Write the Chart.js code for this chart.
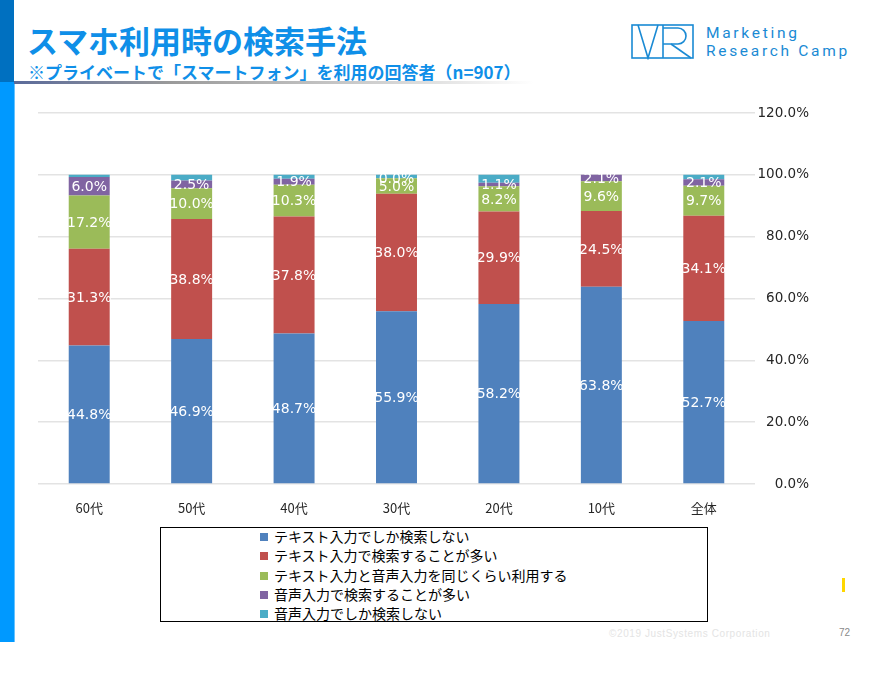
<!DOCTYPE html>
<html lang="ja">
<head>
<meta charset="utf-8">
<script src="https://cdn.jsdelivr.net/npm/chart.js@4.4.1/dist/chart.umd.min.js"></script>
<style>
  html, body { margin: 0; padding: 0; background: #fff; }
  body { width: 879px; height: 696px; position: relative; overflow: hidden; font-family: "Noto Sans CJK JP", "Noto Sans", sans-serif; }
  #barTop { position: absolute; left: 0; top: 0; width: 14px; height: 82px; background: #0070c0; }
  #barBottom { position: absolute; left: 0; top: 82px; width: 14px; height: 560px; background: #0099ff; border-right: 1px solid #66c2ff; }
  #title { position: absolute; left: 27px; top: 20px; font-size: 31px; font-weight: bold; color: #0f8fe8; white-space: nowrap; line-height: 40px; }
  #subtitle { position: absolute; left: 28px; top: 61px; font-size: 17px; font-weight: bold; color: #0f8fe8; white-space: nowrap; line-height: 22px; }
  #rule { position: absolute; left: 14px; top: 81px; width: 520px; height: 3px; background: linear-gradient(to right, #5a6a9a 0%, #9a9a9a 30%, #d0d0d0 70%, rgba(255,255,255,0) 100%); }
  #logo { position: absolute; left: 631px; top: 24px; }
  #logoText { position: absolute; left: 706px; top: 24px; font-family: Roboto, "Noto Sans", sans-serif; font-size: 15.5px; color: #1a8ad4; letter-spacing: 2.7px; line-height: 18px; }
  #chartWrap { position: absolute; left: 0; top: 96px; width: 879px; height: 430px; }
  #legend { position: absolute; left: 160px; top: 527px; width: 546px; height: 93px; border: 1px solid #000; box-sizing: content-box; }
  .li { position: absolute; left: 99px; font-size: 14px; color: #000; white-space: nowrap; line-height: 16px; }
  .sw { display: inline-block; width: 8px; height: 8px; margin-right: 6px; vertical-align: 1px; }
  #copy { position: absolute; left: 609px; top: 628px; font-family: "Liberation Sans", sans-serif; font-size: 10px; color: #e4e4e4; letter-spacing: 0.6px; }
  #page { position: absolute; left: 839px; top: 627px; font-family: "Liberation Sans", sans-serif; font-size: 10px; color: #8a8a8a; }
  #yellow { position: absolute; left: 842px; top: 578px; width: 3px; height: 14px; background: #ffd700; }
</style>
</head>
<body>
<div id="barTop"></div>
<div id="barBottom"></div>
<div id="title">スマホ利用時の検索手法</div>
<div id="subtitle">※プライベートで「スマートフォン」を利用の回答者（n=907）</div>
<div id="rule"></div>
<svg id="logo" width="64" height="36" viewBox="0 0 64 36">
  <g fill="none" stroke="#1a8ad4" stroke-width="1.6">
    <rect x="1" y="1" width="61" height="33"/>
    <polyline points="7,1 17,34 27,1"/>
    <line x1="32" y1="1" x2="32" y2="34"/>
    <path d="M32,4 H47 A8,8 0 0 1 47,20 H32"/>
    <line x1="40" y1="20" x2="60" y2="34"/>
  </g>
</svg>
<div id="logoText">Marketing<br>Research Camp</div>
<div id="chartWrap"><canvas id="c" width="879" height="430"></canvas></div>
<div id="legend"></div>
<div id="copy">©2019 JustSystems Corporation</div>
<div id="page">72</div>
<div id="yellow"></div>
<script>
const categories = ["60代", "50代", "40代", "30代", "20代", "10代", "全体"];
const seriesNames = [
  "テキスト入力でしか検索しない",
  "テキスト入力で検索することが多い",
  "テキスト入力と音声入力を同じくらい利用する",
  "音声入力で検索することが多い",
  "音声入力でしか検索しない"
];
const textOnly   = [44.8, 46.9, 48.7, 55.9, 58.2, 63.8, 52.7];
const textMostly = [31.3, 38.8, 37.8, 38.0, 29.9, 24.5, 34.1];
const bothEqual  = [17.2, 10.0, 10.3, 5.0, 8.2, 9.6, 9.7];
const voiceMostly= [6.0, 2.5, 1.9, 0.0, 1.1, 2.1, 2.1];
const voiceOnly  = [0.7, 1.8, 1.3, 1.1, 2.6, 0.0, 1.4];
const yTicks = [0, 20, 40, 60, 80, 100, 120];
const colors = ["#4f81bd", "#c0504d", "#9bbb59", "#8064a2", "#4bacc6"];
const showLabels = [true, true, true, true, false];

const seriesValues = [textOnly, textMostly, bothEqual, voiceMostly, voiceOnly];

const legend = document.getElementById('legend');
seriesNames.forEach((n, i) => {
  const d = document.createElement('div');
  d.className = 'li';
  d.style.top = (0 + i * 19.3) + 'px';
  d.innerHTML = '<span class="sw" style="background:' + colors[i] + '"></span>' + n;
  legend.appendChild(d);
});

const labelPlugin = {
  id: 'segLabels',
  afterDatasetsDraw(chart) {
    const ctx = chart.ctx;
    ctx.save();
    ctx.font = '14px "DejaVu Sans"';
    ctx.fillStyle = '#ffffff';
    ctx.textAlign = 'center';
    ctx.textBaseline = 'middle';
    chart.data.datasets.forEach((ds, di) => {
      if (!showLabels[di]) return;
      const meta = chart.getDatasetMeta(di);
      meta.data.forEach((bar, i) => {
        const v = ds.data[i];
        const cy = (bar.y + bar.base) / 2;
        ctx.fillText(v.toFixed(1) + '%', bar.x, cy + 1);
      });
    });
    ctx.restore();
  }
};

new Chart(document.getElementById('c'), {
  type: 'bar',
  data: {
    labels: categories,
    datasets: seriesValues.map((vals, i) => ({
      label: seriesNames[i],
      data: vals,
      backgroundColor: colors[i],
      borderWidth: 0,
      categoryPercentage: 1.0,
      barPercentage: 0.4
    }))
  },
  options: {
    responsive: false,
    animation: false,
    layout: { padding: { top: 17, right: 70, left: 38, bottom: 0 } },
    plugins: { legend: { display: false }, tooltip: { enabled: false } },
    scales: {
      x: {
        stacked: true,
        grid: { display: false, drawTicks: false },
        border: { display: false },
        ticks: { color: '#262626', font: { family: '"Noto Sans CJK JP"', size: 13 }, padding: 16 },
        afterFit(s) { s.height = 42; }
      },
      y: {
        stacked: true,
        position: 'right',
        min: 0, max: 120,
        afterBuildTicks(s) { s.ticks = yTicks.map(v => ({ value: v })); },
        grid: { color: '#e3e3e3', lineWidth: 1.5, drawTicks: false },
        border: { display: false },
        ticks: {
          color: '#262626',
          font: { family: '"DejaVu Sans"', size: 13.5 },
          crossAlign: 'far',
          padding: 0,
          callback: v => v.toFixed(1) + '%'
        },
        afterFit(s) { s.width = 54; }
      }
    }
  },
  plugins: [labelPlugin]
});
</script>
</body>
</html>
